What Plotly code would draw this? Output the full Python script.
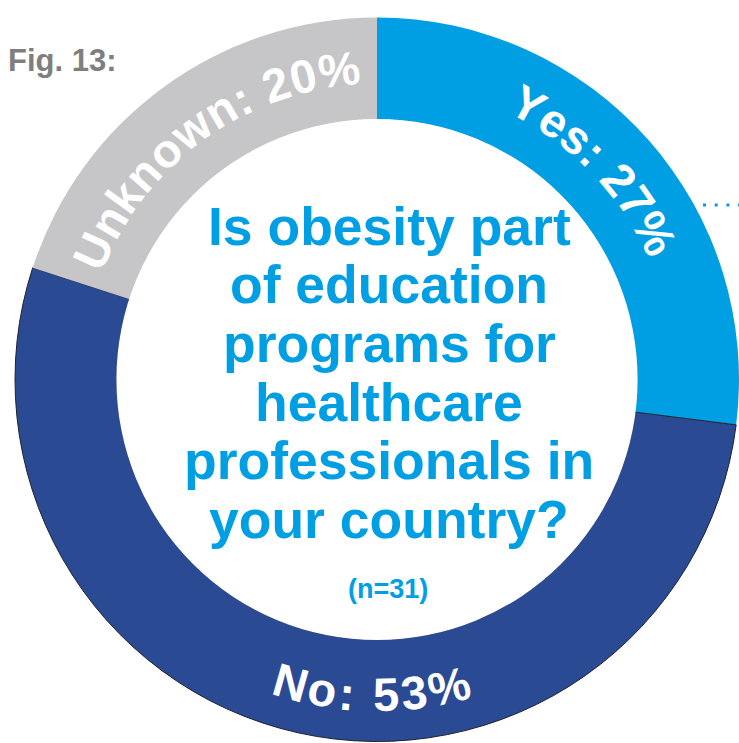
import math
import plotly.graph_objects as go

# Canvas size in pixels
W, H = 739, 743

# Survey answers (share of respondents, %)
labels = ["Yes", "No", "Unknown"]
values = [27, 53, 20]
slice_colors = ["#009FE3", "#2B4A94", "#C6C6C8"]

# Text drawn in the middle of the ring
question_lines = [
    "Is obesity part",
    "of education",
    "programs for",
    "healthcare",
    "professionals in",
    "your country?",
]
sample_note = "(n=31)"
fig_label = "Fig. 13:"

BLUE = "#009FE3"
FONT = "Liberation Sans, Arial, Helvetica, sans-serif"

# Ring geometry (pixels)
dom_left, dom_top, dom_right, dom_bottom = 15, 16, 739, 743
outer_r = min(dom_right - dom_left, dom_bottom - dom_top) / 2
cx = (dom_left + dom_right) / 2
cy = (dom_top + dom_bottom) / 2
inner_r = 260
hole = inner_r / outer_r

fig = go.Figure()
fig.add_trace(go.Pie(
    labels=labels,
    values=values,
    sort=False,
    direction="clockwise",
    rotation=0,
    hole=hole,
    textinfo="none",
    hoverinfo="label+percent",
    showlegend=False,
    marker=dict(
        colors=slice_colors,
        line=dict(color=["rgba(0,0,0,0)", "#1E2230", "rgba(0,0,0,0)"],
                  width=[0, 1, 0]),
    ),
    domain=dict(x=[dom_left / W, dom_right / W],
                y=[1 - dom_bottom / H, 1 - dom_top / H]),
))

# Advance widths (em) of the bold sans used for the ring labels
CHAR_W = {" ": 0.278, "%": 0.889, ":": 0.333, "N": 0.722, "U": 0.722,
          "Y": 0.667, "e": 0.556, "k": 0.556, "n": 0.611, "o": 0.611,
          "s": 0.556, "w": 0.778}


def px_to_paper(x, y):
    return x / W, 1 - y / H


def curved_label(text, theta_deg, r_c, size, track, top=True):
    """Set text along the ring, one rotated glyph at a time."""
    widths = [CHAR_W.get(ch, 0.556) * size for ch in text]
    total = sum(widths) + track * (len(text) - 1)
    r_b = r_c - 0.36 * size if top else r_c + 0.36 * size
    sign = 1 if top else -1
    start = math.radians(theta_deg) - sign * (total / r_b) / 2
    pos = 0.0
    out = []
    for ch, w in zip(text, widths):
        a = start + sign * (pos + w / 2) / r_b
        pos += w + track
        if ch == " ":
            continue
        x = cx + r_c * math.sin(a)
        y = cy - r_c * math.cos(a)
        rot = math.degrees(a) if top else math.degrees(a) - 180
        rot = (rot + 180) % 360 - 180
        px, py = px_to_paper(x, y)
        out.append(dict(
            x=px, y=py, xref="paper", yref="paper", text=ch,
            showarrow=False, xanchor="center", yanchor="middle",
            textangle=rot,
            font=dict(family=FONT, size=size, color="white", weight="bold"),
        ))
    return out


# Where each ring label sits: angle clockwise from 12 o'clock, upright side
label_layout = {
    "Yes": dict(theta=46, r=314, size=47, track=0.5, top=True),
    "No": dict(theta=181, r=315, size=47, track=3.5, top=False),
    "Unknown": dict(theta=324, r=312, size=47, track=0.5, top=True),
}

annotations = []
for lab, val in zip(labels, values):
    spec = label_layout[lab]
    annotations += curved_label(f"{lab}: {val}%", spec["theta"], spec["r"],
                                spec["size"], spec["track"], spec["top"])

# Question in the centre
q_size = 53.5
for i, line in enumerate(question_lines):
    baseline = 245 + i * 58.6
    px, py = px_to_paper(389, baseline - 0.35 * q_size)
    annotations.append(dict(
        x=px, y=py, xref="paper", yref="paper", text=line, showarrow=False,
        xanchor="center", yanchor="middle",
        font=dict(family=FONT, size=q_size, color=BLUE, weight="bold"),
    ))

px, py = px_to_paper(388, 589)
annotations.append(dict(
    x=px, y=py, xref="paper", yref="paper", text=sample_note, showarrow=False,
    xanchor="center", yanchor="middle",
    font=dict(family=FONT, size=27, color=BLUE, weight="bold"),
))

px, py = px_to_paper(6, 60.5)
annotations.append(dict(
    x=px, y=py, xref="paper", yref="paper", text=fig_label, showarrow=False,
    xanchor="left", yanchor="middle",
    font=dict(family=FONT, size=31, color="#7F7F7F", weight="bold"),
))

# Keep the inner rim of the ring clean: white disc over the hole
fig.add_shape(type="circle", xref="paper", yref="paper",
              x0=(cx - inner_r - 0.6) / W, x1=(cx + inner_r + 0.6) / W,
              y0=1 - (cy + inner_r + 0.6) / H, y1=1 - (cy - inner_r - 0.6) / H,
              fillcolor="white", line=dict(width=0), layer="above")

# Dotted leader running off the right edge
x0, y0 = px_to_paper(703, 205)
x1, _ = px_to_paper(739, 205)
fig.add_shape(type="line", xref="paper", yref="paper", x0=x0, x1=x1, y0=y0, y1=y0,
              line=dict(color=BLUE, width=3, dash="3px,8.7px"), layer="above")

fig.update_layout(
    width=W, height=H,
    margin=dict(l=0, r=0, t=0, b=0),
    paper_bgcolor="white",
    plot_bgcolor="white",
    annotations=annotations,
)

fig.write_html("out.html")
